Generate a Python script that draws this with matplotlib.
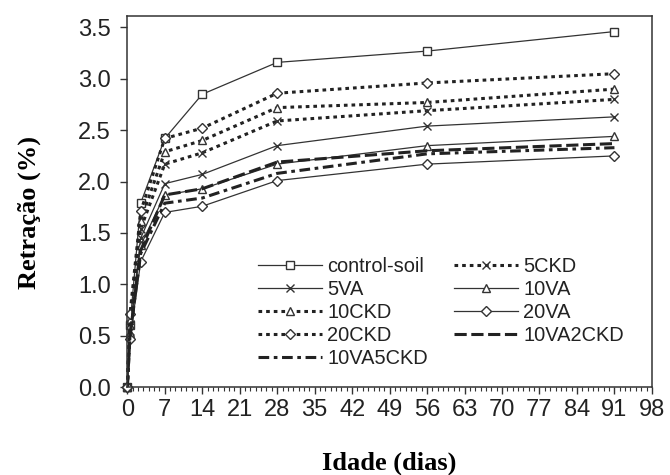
import matplotlib
matplotlib.use("Agg")
import matplotlib.pyplot as plt
from matplotlib.ticker import MultipleLocator

# ages (days) and shrinkage (%)
ages = [0, 0.5, 2.5, 7, 14, 28, 56, 91]

control_soil = [0, 0.60, 1.79, 2.42, 2.85, 3.16, 3.27, 3.46]
ckd5 = [0, 0.61, 1.54, 2.17, 2.28, 2.59, 2.69, 2.80]
va5 = [0, 0.55, 1.45, 1.98, 2.07, 2.35, 2.54, 2.63]
va10 = [0, 0.53, 1.38, 1.87, 1.93, 2.17, 2.35, 2.44]
ckd10 = [0, 0.65, 1.62, 2.29, 2.40, 2.72, 2.77, 2.90]
va20 = [0, 0.47, 1.22, 1.70, 1.76, 2.01, 2.17, 2.25]
ckd20 = [0, 0.71, 1.71, 2.42, 2.52, 2.86, 2.96, 3.05]
va10ckd2 = [0, 0.50, 1.33, 1.87, 1.93, 2.19, 2.30, 2.37]
va10ckd5 = [0, 0.50, 1.30, 1.79, 1.84, 2.08, 2.27, 2.33]

dk = '#222222'
fig, ax = plt.subplots(figsize=(6.7, 4.75), dpi=100)
fig.subplots_adjust(left=0.19, right=0.973, bottom=0.185, top=0.966)

mk = dict(markerfacecolor='white', markeredgecolor='#333333', markersize=6,
          markeredgewidth=1, clip_on=False)
solid = dict(color='#333333', lw=0.9, linestyle='-')
dotted = dict(color=dk, lw=2.2, linestyle=(0, (1.2, 1.3)))

l1, = ax.plot(ages, control_soil, marker='s', label='control-soil', **solid, **mk)
l2, = ax.plot(ages, ckd5, marker='x', label='5CKD', **dotted, **mk)
l3, = ax.plot(ages, va5, marker='x', label='5VA', **solid, **mk)
l4, = ax.plot(ages, va10, marker='^', label='10VA', **solid, **mk)
l5, = ax.plot(ages, ckd10, marker='^', label='10CKD', **dotted, **mk)
l6, = ax.plot(ages, va20, marker='D', label='20VA', **solid,
              **{**mk, 'markersize': 5})
l7, = ax.plot(ages, ckd20, marker='D', label='20CKD', **dotted,
              **{**mk, 'markersize': 5})
l8, = ax.plot(ages, va10ckd2, color=dk, lw=2.2, linestyle=(0, (4, 1.5)), label='10VA2CKD')
l9, = ax.plot(ages, va10ckd5, color=dk, lw=2.2, linestyle=(0, (3.5, 1.5, 1.2, 1.5)),
              label='10VA5CKD')

ax.set_xlim(0, 98)
ax.set_ylim(0, 3.61)
ax.xaxis.set_major_locator(MultipleLocator(7))
ax.xaxis.set_minor_locator(MultipleLocator(1))
ax.yaxis.set_major_locator(MultipleLocator(0.5))
ax.yaxis.set_major_formatter(matplotlib.ticker.FormatStrFormatter('%.1f'))

for s in ax.spines.values():
    s.set_linewidth(1.1)
    s.set_color('#333333')
ax.tick_params(which='major', direction='out', length=5, width=1, color='#333333',
               labelsize=17, labelcolor='#222222')
ax.tick_params(axis='y', which='major', pad=7)
ax.tick_params(which='minor', direction='out', length=3, width=0.8, color='#333333')
ax.tick_params(axis='y', which='minor', left=False)
for lab in ax.get_xticklabels() + ax.get_yticklabels():
    lab.set_fontfamily('Liberation Sans')

ax.set_xlabel('Idade (dias)', fontfamily='Liberation Serif', fontweight='bold', fontsize=19)
ax.set_ylabel('Retração (%)', fontfamily='Liberation Serif', fontweight='bold', fontsize=19)
ax.xaxis.set_label_coords(0.5, -0.175)
ax.yaxis.set_label_coords(-0.165, 0.47)

handles = [l1, l3, l5, l7, l9, l2, l4, l6, l8]
ax.legend(handles=handles, loc='upper left', bbox_to_anchor=(0.25, 0.352), ncol=2,
          frameon=False, borderpad=0, borderaxespad=0, handlelength=3.2,
          handletextpad=0.25, columnspacing=1.3, labelspacing=0.2,
          prop={'family': 'Liberation Sans', 'size': 14.4}, labelcolor='#222222')

fig.savefig('out.png', dpi=100)
